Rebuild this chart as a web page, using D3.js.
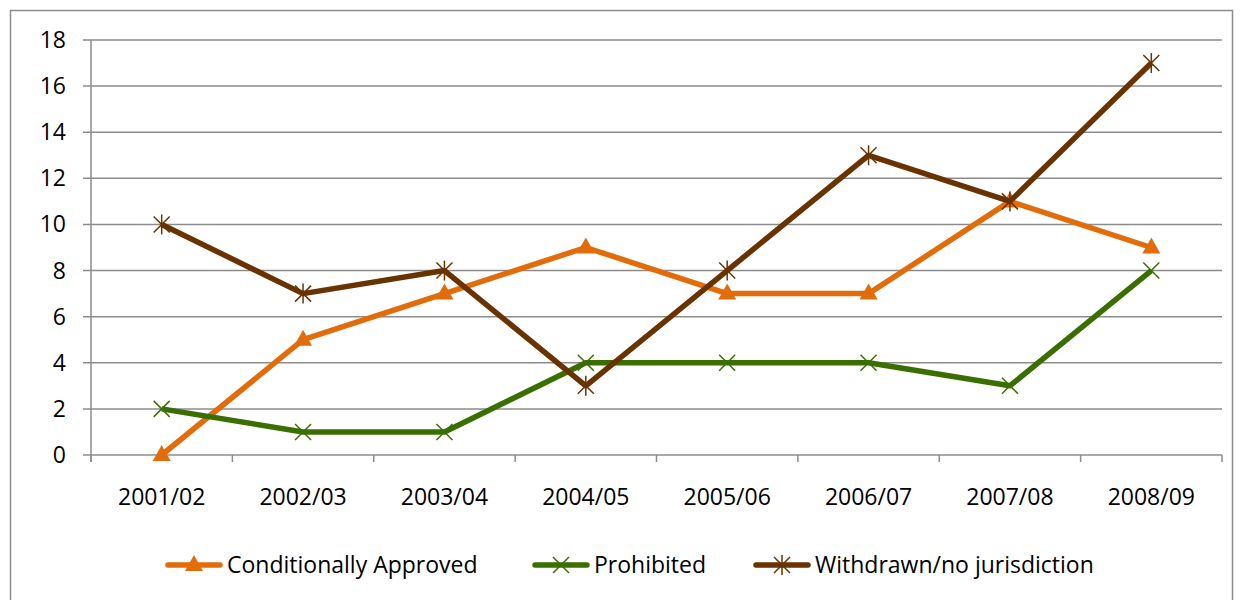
<!DOCTYPE html>
<html>
<head>
<meta charset="utf-8">
<script src="https://cdn.jsdelivr.net/npm/d3@7"></script>
<style>
  body { margin: 0; background: #fff; }
  text { font-family: "Open Sans", Lato, sans-serif; fill: #000; }
</style>
</head>
<body>
<svg id="chart" width="1243" height="600"></svg>
<script>
const years = ["2001/02", "2002/03", "2003/04", "2004/05", "2005/06", "2006/07", "2007/08", "2008/09"];
const approved = [0, 5, 7, 9, 7, 7, 11, 9];
const prohibited = [2, 1, 1, 4, 4, 4, 3, 8];
const withdrawn = [10, 7, 8, 3, 8, 13, 11, 17];
const yTicks = [0, 2, 4, 6, 8, 10, 12, 14, 16, 18];

const series = [
  { name: "Conditionally Approved", values: approved, color: "#E36C0A", marker: "triangle", lx: 168 },
  { name: "Prohibited", values: prohibited, color: "#3A6F00", marker: "x", lx: 535 },
  { name: "Withdrawn/no jurisdiction", values: withdrawn, color: "#693300", marker: "star", lx: 756 }
];

const svg = d3.select("#chart");

// outer frame
svg.append("rect")
  .attr("x", 10.5).attr("y", 10.5)
  .attr("width", 1222).attr("height", 600)
  .attr("fill", "none").attr("stroke", "#8c8c8c").attr("stroke-width", 1.5);

const plotLeft = 91, plotRight = 1222, plotTop = 40, plotBottom = 455;

const x = d3.scaleBand().domain(years).range([plotLeft, plotRight]);
const y = d3.scaleLinear().domain([0, 18]).range([plotBottom, plotTop]);

// gridlines
svg.append("g").selectAll("line")
  .data(yTicks)
  .enter().append("line")
  .attr("x1", plotLeft - 8).attr("x2", plotRight)
  .attr("y1", d => y(d)).attr("y2", d => y(d))
  .attr("stroke", "#8c8c8c").attr("stroke-width", 1.5);

// y axis
svg.append("line")
  .attr("x1", plotLeft).attr("x2", plotLeft)
  .attr("y1", plotTop).attr("y2", plotBottom + 7)
  .attr("stroke", "#8c8c8c").attr("stroke-width", 1.5);

svg.append("g").selectAll("text")
  .data(yTicks)
  .enter().append("text")
  .attr("x", 66).attr("y", d => y(d) + 8)
  .attr("text-anchor", "end")
  .style("font-size", "23px")
  .text(d => d);

// x ticks (between categories)
const xTickPos = years.map((d, i) => plotLeft + i * x.step()).concat([plotRight]);
svg.append("g").selectAll("line")
  .data(xTickPos)
  .enter().append("line")
  .attr("x1", d => d).attr("x2", d => d)
  .attr("y1", plotBottom).attr("y2", plotBottom + 7)
  .attr("stroke", "#8c8c8c").attr("stroke-width", 1.5);

svg.append("g").selectAll("text")
  .data(years)
  .enter().append("text")
  .attr("x", d => x(d) + x.bandwidth() / 2)
  .attr("y", 505)
  .attr("text-anchor", "middle")
  .style("font-size", "23px")
  .text(d => d);

const line = d3.line()
  .x((d, i) => x(years[i]) + x.bandwidth() / 2)
  .y(d => y(d));

function drawMarker(g, type, color) {
  if (type === "triangle") {
    g.append("path").attr("d", "M0,-10L9,6L-9,6Z").attr("fill", color);
  } else {
    g.append("path").attr("d", "M-8,-8L8,8M-8,8L8,-8")
      .attr("stroke", color).attr("stroke-width", 1.5);
    if (type === "star") {
      g.append("path").attr("d", "M0,-10L0,10").attr("stroke", color).attr("stroke-width", 1.5);
    }
  }
}

series.forEach(s => {
  svg.append("path")
    .datum(s.values)
    .attr("d", line)
    .attr("fill", "none")
    .attr("stroke", s.color)
    .attr("stroke-width", 5.5)
    .attr("stroke-linejoin", "round");

  s.values.forEach((v, i) => {
    const g = svg.append("g")
      .attr("transform", `translate(${x(years[i]) + x.bandwidth() / 2},${y(v)})`);
    drawMarker(g, s.marker, s.color);
  });

  // legend
  const lg = svg.append("g").attr("transform", `translate(${s.lx},565)`);
  lg.append("line")
    .attr("x1", 0).attr("x2", 52).attr("y1", 0).attr("y2", 0)
    .attr("stroke", s.color).attr("stroke-width", 5.5).attr("stroke-linecap", "round");
  drawMarker(lg.append("g").attr("transform", "translate(26,0)"), s.marker, s.color);
  lg.append("text")
    .attr("x", 59).attr("y", 8)
    .style("font-size", "23px")
    .text(s.name);
});
</script>
</body>
</html>
